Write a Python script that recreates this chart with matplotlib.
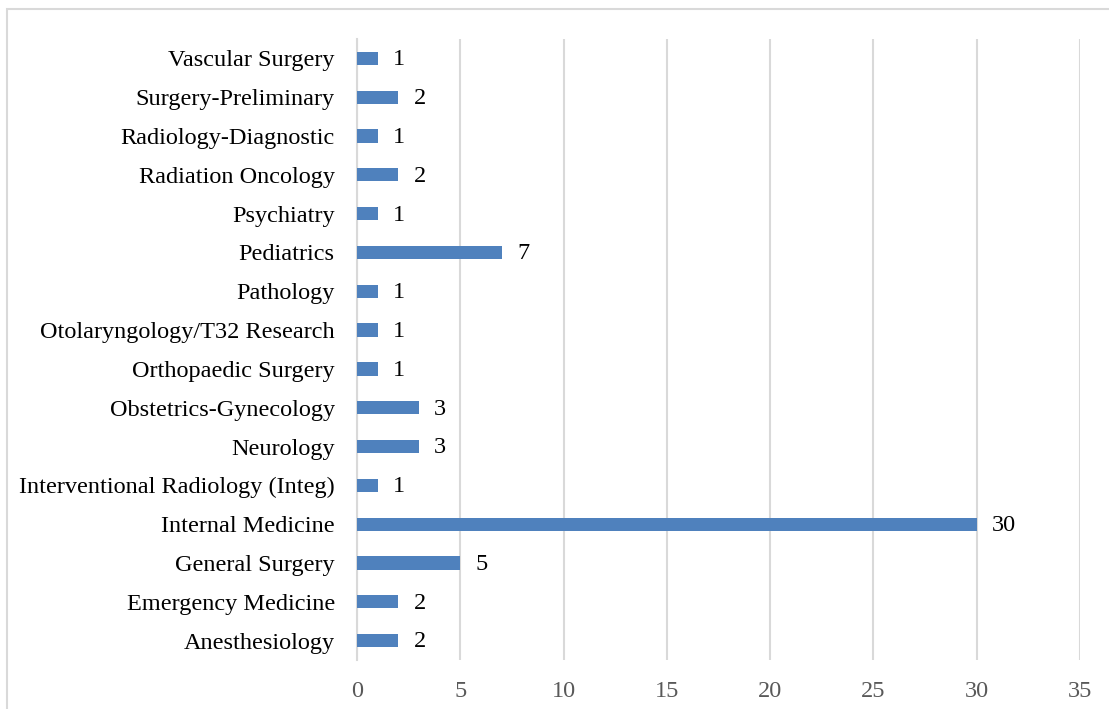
import matplotlib
matplotlib.use("Agg")
import matplotlib.pyplot as plt
from matplotlib.patches import Rectangle

categories = ["Anesthesiology", "Emergency Medicine", "General Surgery", "Internal Medicine",
              "Interventional Radiology (Integ)", "Neurology", "Obstetrics-Gynecology",
              "Orthopaedic Surgery", "Otolaryngology/T32 Research", "Pathology", "Pediatrics",
              "Psychiatry", "Radiation Oncology", "Radiology-Diagnostic", "Surgery-Preliminary",
              "Vascular Surgery"]
values = [2, 2, 5, 30, 1, 3, 3, 1, 1, 1, 7, 1, 2, 1, 2, 1]
xticks = [0, 5, 10, 15, 20, 25, 30, 35]

plt.rcParams['font.family'] = ['Liberation Serif', 'DejaVu Serif']

W, H = 1109, 709
fig = plt.figure(figsize=(W / 100, H / 100), dpi=100)
ax = fig.add_axes([357 / W, 1 - 660 / H, (1080 - 357) / W, (660 - 39) / H])

pos = list(range(len(categories)))
ax.barh(pos, values, height=0.34, color="#4F81BD", zorder=3)
for p, v in zip(pos, values):
    ax.annotate(str(v), (v, p), xytext=(11, -1), textcoords="offset points",
                ha="left", va="center", fontsize=17.5, color="black")

ax.set_xlim(0, 35)
ax.set_ylim(-0.5, len(categories) - 0.5)
ax.set_xticks(xticks)
ax.set_xticklabels([str(t) for t in xticks])
ax.set_yticks(pos)
ax.set_yticklabels(categories)
ax.tick_params(axis="x", length=0, pad=15, labelsize=17.5, labelcolor="#595959")
ax.tick_params(axis="y", length=0, pad=16, labelsize=17.5, labelcolor="black")
ax.grid(axis="x", color="#D9D9D9", linewidth=1.5, zorder=0)
for s in ["top", "right", "bottom"]:
    ax.spines[s].set_visible(False)
ax.spines["left"].set_color("#D9D9D9")
ax.spines["left"].set_linewidth(1.5)

fig.patches.append(Rectangle((7 / W, -0.05), 1.1, 1 - 9 / H + 0.05, transform=fig.transFigure,
                             fill=False, edgecolor="#D9D9D9", linewidth=1.5))

fig.savefig("out.png", dpi=100)
